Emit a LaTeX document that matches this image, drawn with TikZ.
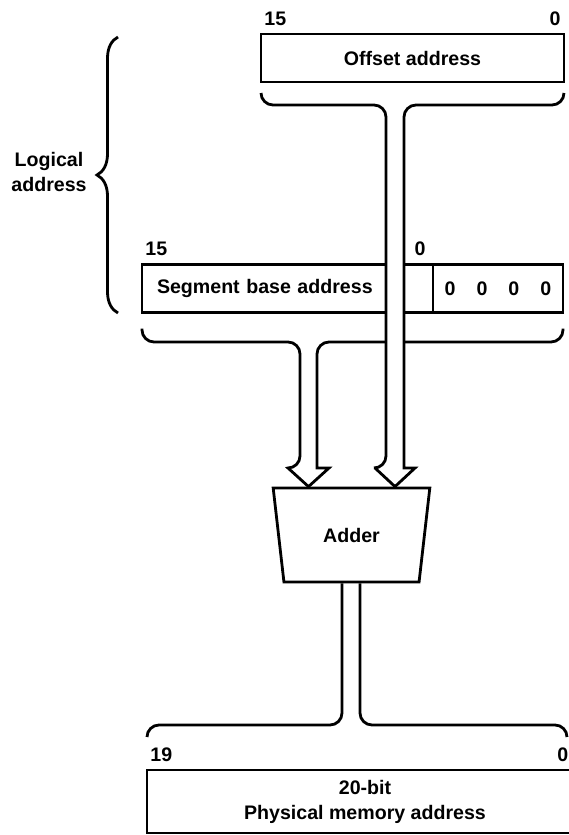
\documentclass[tikz,border=0pt]{standalone}
\usepackage{fontspec}
\setmainfont{Liberation Sans}
\usetikzlibrary{shapes.geometric,decorations.pathreplacing,calc,positioning}

\begin{document}
\begin{tikzpicture}[
    x=0.5pt, y=-0.5pt,
    font=\fontsize{9.8}{12.5}\selectfont\bfseries,
    line width=1.4pt,
    box/.style={draw, minimum height=24pt, inner sep=0pt, outer sep=0pt},
    bus/.style={line width=1.4pt, line join=miter},
    bit/.style={inner sep=1pt, yshift=2.5pt}
]
\useasboundingbox (0,0) rectangle (568,835);

% registers
\node[box, minimum width=151.5pt] (off) at (412.5,58) {Offset address};
\node[box, minimum width=145.5pt, text width=130.5pt, align=left, inner xsep=7.5pt] (seg) at (287.5,288.5) {Segment base address};
\node[box, minimum width=65pt, anchor=west] (zeros) at (seg.east) {{\spaceskip=10.5pt 0 0 0 0}};
\node[box, minimum width=218pt, minimum height=31.5pt, align=center] (phys) at (365,801.5) {20-bit\\Physical memory address};
\node[trapezium, draw, shape border rotate=180, trapezium stretches=true, trapezium angle=72.6,
      minimum width=78.5pt, minimum height=47pt, inner sep=0pt] (adder) at (351.5,535) {Adder};

% bit numbers
\node[bit, anchor=south west] at (off.north west) {15};
\node[bit, anchor=south east] at (off.north east) {0};
\node[bit, anchor=south west] at (seg.north west) {15};
\node[bit, anchor=south east, xshift=-2pt] at (seg.north east) {0};
\node[bit, anchor=south west] at (phys.north west) {19};
\node[bit, anchor=south west] at (phys.north -| 554,0) {0};

% logical address brace
\coordinate (logtop) at (118,37);
\coordinate (logbot) at (118,313);
\draw[decorate, decoration={brace, amplitude=10.5pt}] (logbot) -- (logtop);
\node[align=center] (logical) at (49,172) {Logical\\address};

% segment bus
\draw[bus] ([yshift=-8pt]seg.south west) [rounded corners=6pt] |- (300,342) -- (300,468)
    [sharp corners] -- (288,468) -- (308.5,0 |- adder.north) -- (329,468) -- (317,468)
    [rounded corners=6pt] -- (317,342) -| ([yshift=-8pt]zeros.south east);

% offset bus
\draw[bus, fill=white] ([yshift=-5.5pt]off.south west) [rounded corners=6pt] |- (386,105) -- (386,468)
    [sharp corners] -- (375,468) -- (395,0 |- adder.north) -- (415,468) -- (404,468)
    [rounded corners=6pt] -- (404,105) -| ([yshift=-5.5pt]off.south east);

% physical bus
\coordinate (physL) at (147,737);
\coordinate (physR) at (567,737);
\draw[bus] (342,0 |- adder.south) [rounded corners=6pt] |- (physL |- 0,725) -- (physL);
\draw[bus] (360,0 |- adder.south) [rounded corners=6pt] |- (physR |- 0,725) -- (physR);
\end{tikzpicture}
\end{document}
